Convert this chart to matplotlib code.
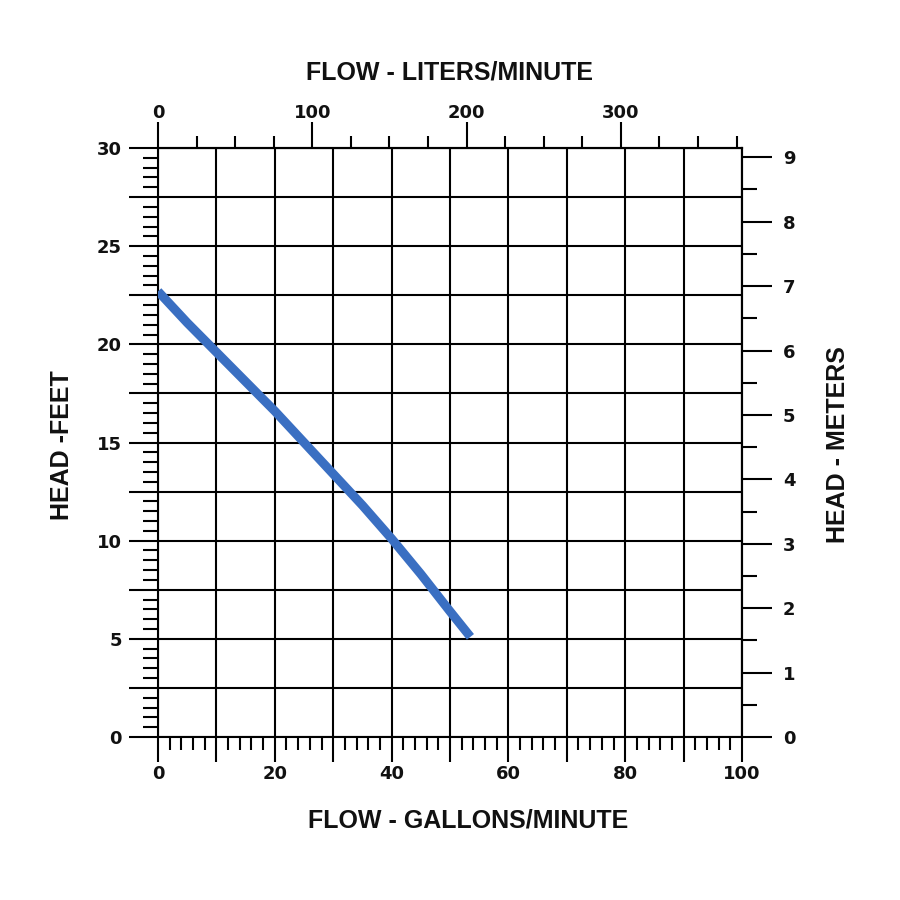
import matplotlib
matplotlib.use("Agg")
import matplotlib.pyplot as plt
from matplotlib.ticker import MultipleLocator, FixedLocator, FuncFormatter
import numpy as np

# Data
flow_gpm = [0, 5, 10, 15, 20, 25, 30, 35, 40, 45, 50, 53.5]
head_ft = [22.7, 21.1, 19.6, 18.1, 16.6, 15.0, 13.4, 11.8, 10.1, 8.3, 6.4, 5.1]

gpm_ticks = [0, 10, 20, 30, 40, 50, 60, 70, 80, 90, 100]
ft_ticks = [0, 2.5, 5, 7.5, 10, 12.5, 15, 17.5, 20, 22.5, 25, 27.5, 30]
lpm_major = [0, 100, 200, 300]
lpm_minor = [25, 50, 75, 125, 150, 175, 225, 250, 275, 325, 350, 375]
m_major = [0, 1, 2, 3, 4, 5, 6, 7, 8, 9]
m_minor = [0.5, 1.5, 2.5, 3.5, 4.5, 5.5, 6.5, 7.5, 8.5]

bottom_label = "FLOW - GALLONS/MINUTE"
top_label = "FLOW - LITERS/MINUTE"
left_label = "HEAD -FEET"
right_label = "HEAD - METERS"

GPM_TO_LPM = 3.78541
FT_TO_M = 0.3048

plt.rcParams['font.family'] = ['DejaVu Sans']
fig = plt.figure(figsize=(9, 9), dpi=100)
ax = fig.add_axes([158/900, 1-737/900, (742-158)/900, (737-148)/900])
ax.set_xlim(0, 100)
ax.set_ylim(0, 30)

ax.plot(flow_gpm, head_ft, color='#3a6fc2', lw=6.5, solid_capstyle='butt',
        solid_joinstyle='round', zorder=5)

lw = 1.5
for s in ax.spines.values():
    s.set_linewidth(lw)
    s.set_color('black')

ax.xaxis.set_major_locator(FixedLocator(gpm_ticks))
ax.xaxis.set_minor_locator(MultipleLocator(2))
ax.xaxis.set_major_formatter(FuncFormatter(lambda v, p: f"{int(round(v))}" if int(round(v)) % 20 == 0 else ""))
ax.yaxis.set_major_locator(FixedLocator(ft_ticks))
ax.yaxis.set_minor_locator(MultipleLocator(0.5))
ax.yaxis.set_major_formatter(FuncFormatter(lambda v, p: f"{int(round(v))}" if abs(v - round(v / 5) * 5) < 1e-6 else ""))

ax.grid(True, which='major', color='black', lw=lw)
ax.set_axisbelow(True)

tickfont = 13
tw = 'bold'
ax.tick_params(axis='x', which='major', direction='out', length=18, width=lw, pad=2.5, labelsize=tickfont)
ax.tick_params(axis='x', which='minor', direction='out', length=9.5, width=lw)
ax.tick_params(axis='y', which='major', direction='out', length=21, width=lw, pad=5, labelsize=tickfont)
ax.tick_params(axis='y', which='minor', direction='out', length=10.5, width=lw)

# Top axis: liters/minute
top = ax.secondary_xaxis('top', functions=(lambda x: x * GPM_TO_LPM, lambda x: x / GPM_TO_LPM))
top.xaxis.set_major_locator(FixedLocator(lpm_major))
top.xaxis.set_minor_locator(FixedLocator(lpm_minor))
top.tick_params(axis='x', which='major', direction='out', length=18.5, width=lw, pad=0.5, labelsize=tickfont)
top.tick_params(axis='x', which='minor', direction='out', length=8.5, width=lw)
top.spines['top'].set_linewidth(lw)

# Right axis: meters
right = ax.secondary_yaxis('right', functions=(lambda y: y * FT_TO_M, lambda y: y / FT_TO_M))
right.yaxis.set_major_locator(FixedLocator(m_major))
right.yaxis.set_minor_locator(FixedLocator(m_minor))
right.tick_params(axis='y', which='major', direction='out', length=21.5, width=lw, pad=8, labelsize=tickfont)
right.tick_params(axis='y', which='minor', direction='out', length=10.8, width=lw)
right.spines['right'].set_linewidth(lw)

for a in (ax, top, right):
    for t in a.get_xticklabels() + a.get_yticklabels():
        t.set_fontweight(tw)
        t.set_color('#111111')

lab = dict(family=['Liberation Sans', 'DejaVu Sans'], weight='bold', fontsize=18, color='#111111')
fig.text(450/900, 1-72/900, top_label, ha='center', va='center', **lab)
fig.text(468/900, 1-820/900, bottom_label, ha='center', va='center', **lab)
fig.text(62/900, 1-445/900, left_label, ha='center', va='center', rotation=90, **lab)
fig.text(838/900, 1-445/900, right_label, ha='center', va='center', rotation=90, **lab)

fig.savefig("out.png", dpi=100)
